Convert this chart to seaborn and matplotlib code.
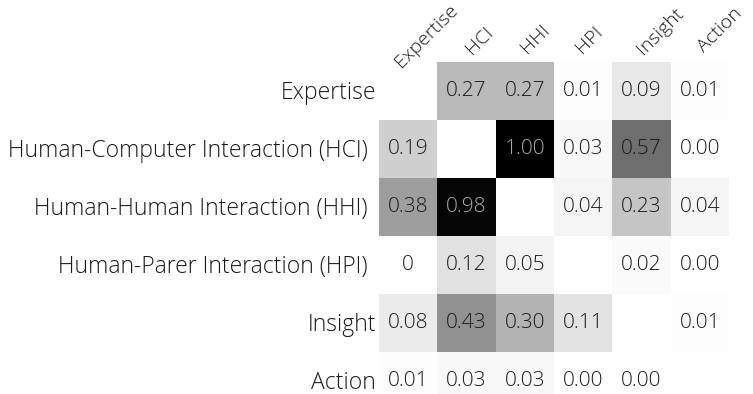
import numpy as np
import pandas as pd
import matplotlib
matplotlib.use("Agg")
import matplotlib.pyplot as plt
import matplotlib.transforms as mtransforms
import seaborn as sns

row_labels = ["Expertise", "Human-Computer Interaction (HCI)", "Human-Human Interaction (HHI)",
              "Human-Parer Interaction (HPI)", "Insight", "Action"]
col_labels = ["Expertise", "HCI", "HHI", "HPI", "Insight", "Action"]

expertise = [np.nan, 0.27, 0.27, 0.01, 0.09, 0.01]
hci       = [0.19, np.nan, 1.00, 0.03, 0.57, 0.00]
hhi       = [0.38, 0.98, np.nan, 0.04, 0.23, 0.04]
hpi       = [0.00, 0.12, 0.05, np.nan, 0.02, 0.00]
insight   = [0.08, 0.43, 0.30, 0.11, np.nan, 0.01]
action    = [0.01, 0.03, 0.03, 0.00, 0.00, np.nan]

annot_text = [
    ["", "0.27", "0.27", "0.01", "0.09", "0.01"],
    ["0.19", "", "1.00", "0.03", "0.57", "0.00"],
    ["0.38", "0.98", "", "0.04", "0.23", "0.04"],
    ["0", "0.12", "0.05", "", "0.02", "0.00"],
    ["0.08", "0.43", "0.30", "0.11", "", "0.01"],
    ["0.01", "0.03", "0.03", "0.00", "0.00", ""],
]

df = pd.DataFrame([expertise, hci, hhi, hpi, insight, action], index=row_labels, columns=col_labels)

sns.set_theme(style="white")
FONT = ["Open Sans", "DejaVu Sans"]
plt.rcParams["font.family"] = FONT
WEIGHT = "light"
TXT = "#1a1a1a"

W, H = 753, 394
fig = plt.figure(figsize=(W / 100, H / 100), dpi=100)
ax = fig.add_axes([379 / W, 1 - 410 / H, 350 / W, 348 / H])

sns.heatmap(df, ax=ax, cmap="gray_r", vmin=0, vmax=1, cbar=False,
            annot=np.array(annot_text), fmt="", square=False,
            annot_kws={"fontsize": 15, "color": TXT, "fontweight": WEIGHT}, linewidths=0)

vals = df.values
for t in ax.texts:
    x, y = t.get_position()
    v = vals[int(y), int(x)]
    if not np.isnan(v) and v > 0.7:
        t.set_color("#aaaaaa")
    else:
        t.set_color(TXT)

ax.set_xlabel("")
ax.set_ylabel("")
ax.set_xticks([])
ax.set_yticks([])

def px(dx, dy):
    return mtransforms.ScaledTranslation(dx / 100, dy / 100, fig.dpi_scale_trans)

# row labels (right-aligned, left of the grid)
yblend = mtransforms.blended_transform_factory(ax.transAxes, ax.transData)
for j, lab in enumerate(row_labels):
    dx = -11 if lab.endswith(")") else -3
    ax.text(0, j + 0.5, lab, transform=yblend + px(dx, 1), ha="right", va="center_baseline",
            fontsize=16.5, color=TXT, fontweight=WEIGHT)

# column labels (rotated, above the grid)
col_offsets = [(-7, -6), (5, 7), (2, 8), (-1, 8), (2, 7), (4, 9)]
xblend = mtransforms.blended_transform_factory(ax.transData, ax.transAxes)
for i, lab in enumerate(col_labels):
    dx, dy = col_offsets[i]
    ax.text(i + 0.5, 1.0, lab, transform=xblend + px(dx, dy), rotation=45, rotation_mode="anchor",
            ha="left", va="baseline", fontsize=14, color=TXT, fontweight=WEIGHT)

fig.savefig("out.png", dpi=100)
